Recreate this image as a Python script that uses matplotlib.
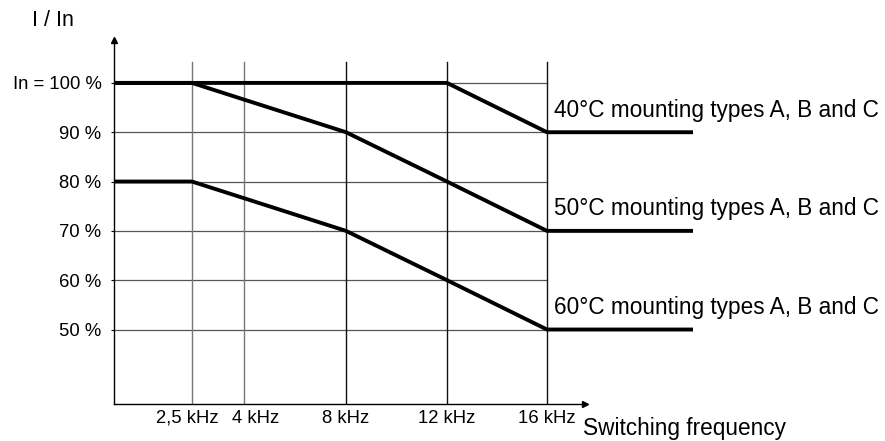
import numpy as np
import matplotlib
matplotlib.use('Agg')
import matplotlib.pyplot as plt
import matplotlib.transforms as mtransforms

plt.rcParams['font.family'] = ['Liberation Sans', 'DejaVu Sans']

# data
freq_ticks = [2.5, 4, 8, 12, 16]
freq_labels = ['2,5 kHz', '4 kHz', '8 kHz', '12 kHz', '16 kHz']
pct_ticks = [50, 60, 70, 80, 90, 100]
pct_labels = ['50 %', '60 %', '70 %', '80 %', '90 %', 'In = 100 %']

f_end = 21.84
curve_40_f = [0, 12, 16, f_end]
curve_40_i = [100, 100, 90, 90]
curve_50_f = [0, 2.5, 8, 12, 16, f_end]
curve_50_i = [100, 100, 90, 80, 70, 70]
curve_60_f = [0, 2.5, 8, 12, 16, f_end]
curve_60_i = [80, 80, 70, 60, 50, 50]
curve_names = ['40°C mounting types A, B and C',
               '50°C mounting types A, B and C',
               '60°C mounting types A, B and C']

# non linear frequency axis, as on the drawing
scale_f = [0, 2.5, 4, 8, 12, 16, 40]
scale_p = [0, 78, 130, 232, 333, 433, 1033]

def fwd(f):
    return np.interp(f, scale_f, scale_p)

def inv(p):
    return np.interp(p, scale_p, scale_f)

W, H = 885, 441
fig = plt.figure(figsize=(W / 100, H / 100), dpi=100)
x0, x1 = 114, 585
y0, y1 = 404, 40
ax = fig.add_axes([x0 / W, (H - y0) / H, (x1 - x0) / W, (y0 - y1) / H])
ax.set_xscale('function', functions=(fwd, inv))
ax.set_xlim(0, inv(x1 - x0))
ax.set_ylim(34.9, 108.7)

for s in ['top', 'right']:
    ax.spines[s].set_visible(False)
for s in ['left', 'bottom']:
    ax.spines[s].set_linewidth(1.0)
    ax.spines[s].set_color('black')
ax.plot(1, 0, '>', color='black', ms=4, transform=ax.transAxes, clip_on=False)
ax.plot(0, 1, '^', color='black', ms=4, transform=ax.transAxes, clip_on=False)

# grid
for p in pct_ticks:
    ax.plot([0, 16], [p, p], color='#555555', lw=0.9, zorder=1)
for f in freq_ticks:
    c = '#777777' if f < 5 else '#111111'
    ax.plot([f, f], [34.9, 104.3], color=c, lw=1.0, zorder=1)

# curves
for fs, vals in [(curve_40_f, curve_40_i), (curve_50_f, curve_50_i), (curve_60_f, curve_60_i)]:
    ax.plot(fs, vals, color='black', lw=2.8, solid_capstyle='butt',
            solid_joinstyle='miter', clip_on=False, zorder=3)

for name, v in zip(curve_names, [curve_40_i[-1], curve_50_i[-1], curve_60_i[-1]]):
    ax.text(16.3, v + 4.5, name, fontsize=16.3, ha='left', va='center')

ax.set_xticks(freq_ticks)
ax.set_xticklabels(freq_labels, fontsize=13.3)
ax.set_yticks(pct_ticks)
ax.set_yticklabels(pct_labels, fontsize=13.3)
ax.tick_params(axis='x', length=0, pad=4)
ax.tick_params(axis='y', length=2, width=0.8, pad=7)
ax.minorticks_off()

# labels on the drawing are not quite centred under the lines
shifts = [-5, 12, 0, 0, 0]
for lab, dx in zip(ax.get_xticklabels(), shifts):
    lab.set_transform(lab.get_transform() + mtransforms.ScaledTranslation(dx / 100, 0, fig.dpi_scale_trans))

fig.text(32 / W, 1 - 20 / H, 'I / In', fontsize=15.5, ha='left', va='center')
fig.text(583 / W, 1 - 428 / H, 'Switching frequency', fontsize=16.3, ha='left', va='center')

fig.savefig('out.png', dpi=100)
